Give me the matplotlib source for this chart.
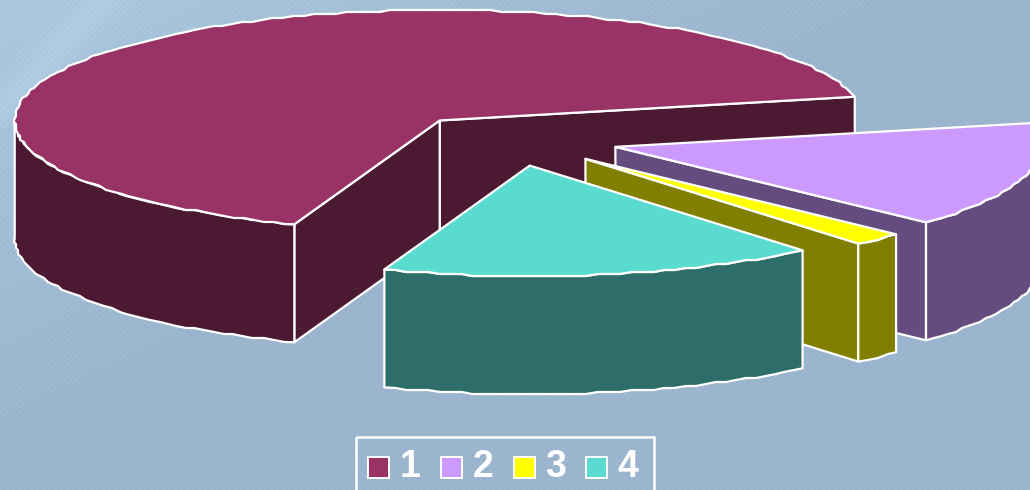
import numpy as np
import matplotlib
matplotlib.use("Agg")
import matplotlib.pyplot as plt
from matplotlib.patches import Polygon, Rectangle

plt.rcParams['font.family'] = ['Liberation Sans', 'DejaVu Sans']

labels = ['1', '2', '3', '4']
values = [66, 15.4, 1.95, 16.65]
top_colors = ['#993366', '#CC99FF', '#FFFF00', '#59DBD0']
side_colors = ['#4C1933', '#654C7F', '#807F00', '#2D6E6A']

# pie geometry, in pixels
cx, cy = 511, 140
rx, ry = 425, 110.5
depth = 118
explode_x = 0.2547
explode_y = 0.235
start = 250


def rim(a1, a2, ox, oy, step=1.5):
    n = max(int(abs(a2 - a1) / step), 1)
    t = np.radians(np.linspace(a1, a2, n + 1))
    pts = np.column_stack([ox + rx * np.cos(t), oy - ry * np.sin(t)])
    if n > 1:
        # the original outline is slightly jagged
        pts[1:-1] = np.round(pts[1:-1] / 2) * 2
    return pts


def draw_slice(val_start, val_end, top, side, z):
    # val_start > val_end, the pie runs clockwise
    mid = np.radians((val_start + val_end) / 2)
    ox = cx + explode_x * rx * np.cos(mid)
    oy = cy - explode_y * ry * np.sin(mid)
    down = np.array([0, depth])
    lw = 1.6

    # cut faces
    for ang, normal in ((val_end, val_end - 90), (val_start, val_start + 90)):
        if np.sin(np.radians(normal)) < 0:
            e = rim(ang, ang, ox, oy)[0]
            a = np.array([ox, oy])
            ax.add_patch(Polygon([a, e, e + down, a + down], closed=True, fc=side,
                                 ec='white', lw=lw, zorder=z, joinstyle='round'))

    # outer wall, front half of the ellipse only
    lo, hi = val_end, val_start
    for k in (-360, 0, 360):
        a1, a2 = max(lo, 180 + k), min(hi, 360 + k)
        if a2 > a1:
            r = rim(a1, a2, ox, oy)
            ax.add_patch(Polygon(np.vstack([r, (r + down)[::-1]]), closed=True, fc=side,
                                 ec='white', lw=lw, zorder=z + 0.1, joinstyle='round'))

    # top
    r = rim(val_end, val_start, ox, oy)
    ax.add_patch(Polygon(np.vstack([[ox, oy], r]), closed=True, fc=top,
                         ec='white', lw=lw, zorder=z + 0.2, joinstyle='round'))


fig = plt.figure(figsize=(10.3, 4.9), dpi=100)
ax = fig.add_axes([0, 0, 1, 1])
ax.set_xlim(0, 1030)
ax.set_ylim(490, 0)
ax.axis('off')

# background: diagonal blue gradient, light streak and fine weave
yy, xx = np.mgrid[0:490, 0:1030]
d = (xx / 1030 + yy / 490) / 2
c0 = np.array([172, 199, 224.])
c1 = np.array([155, 181, 206.])
mix = np.clip(d / 0.45, 0, 1)[..., None]
bg = c0 + (c1 - c0) * mix
streak = np.exp(-((xx + yy * 0.95 - 105) / 22.) ** 2) * (yy < 130)
bg = bg + streak[..., None] * 8
weave = ((xx // 3 + yy // 3) % 2)[..., None] * 4 - 2
bg = np.clip(bg + weave, 0, 255) / 255
ax.imshow(bg, extent=(0, 1030, 490, 0), aspect='auto', zorder=0, interpolation='nearest')

# slices, back to front
angle = start
for i, v in enumerate(values):
    sweep = v / sum(values) * 360
    draw_slice(angle, angle - sweep, top_colors[i], side_colors[i], 2 + i)
    angle -= sweep

# legend box, runs off the bottom of the picture
ax.add_patch(Rectangle((356, 437), 298, 60, fc='none', ec='white', lw=1.8, zorder=10))
box_x = [368, 441, 513.5, 586]
for i, lab in enumerate(labels):
    ax.add_patch(Rectangle((box_x[i], 457), 21, 21, fc=top_colors[i], ec='white', lw=1.4, zorder=10))
    ax.text(box_x[i] + 42, 467, lab, color='white', fontsize=27, fontweight='bold',
            ha='center', va='center', zorder=10)

fig.savefig('out.png', dpi=100)
